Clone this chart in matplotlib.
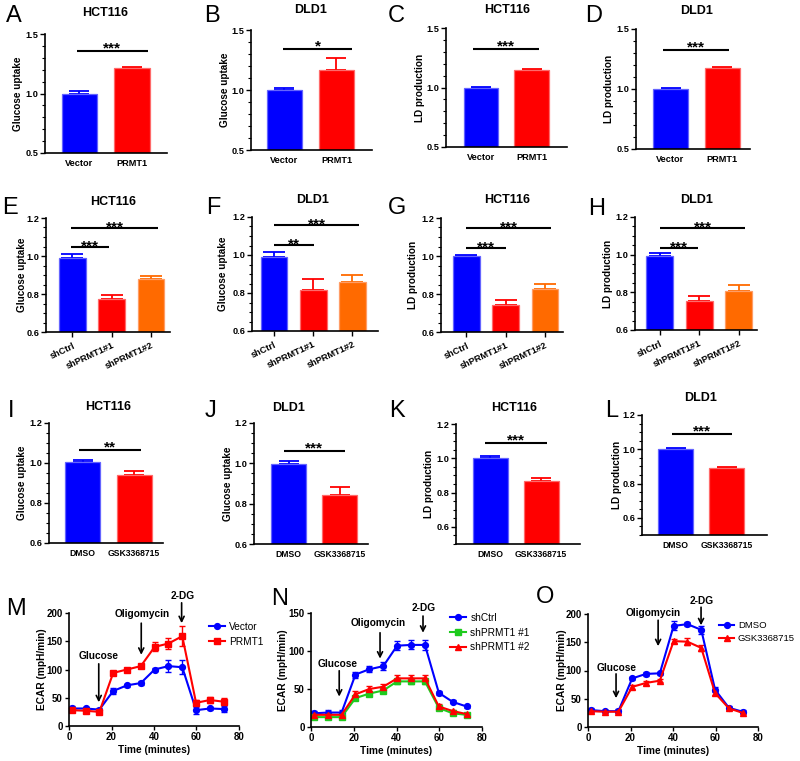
import matplotlib
matplotlib.use('Agg')
import matplotlib.pyplot as plt
from matplotlib.ticker import MultipleLocator
import numpy as np

plt.rcParams['font.family'] = ['Liberation Sans', 'DejaVu Sans']

# ---------------- data ----------------
grp_vec = ['Vector', 'PRMT1']
grp_sh = ['shCtrl', 'shPRMT1#1', 'shPRMT1#2']
grp_drug = ['DMSO', 'GSK3368715']

A_mean = [0.996, 1.214]; A_err = [0.024, 0.008]
B_mean = [1.000, 1.164]; B_err = [0.015, 0.100]
C_mean = [0.999, 1.144]; C_err = [0.008, 0.011]
D_mean = [1.000, 1.171]; D_err = [0.005, 0.009]
E_mean = [0.989, 0.775, 0.881]; E_err = [0.023, 0.021, 0.014]
F_mean = [0.989, 0.814, 0.856]; F_err = [0.027, 0.058, 0.037]
G_mean = [0.998, 0.740, 0.825]; G_err = [0.009, 0.027, 0.026]
H_mean = [0.993, 0.755, 0.808]; H_err = [0.016, 0.025, 0.030]
I_mean = [1.005, 0.942]; I_err = [0.012, 0.020]
J_mean = [0.998, 0.844]; J_err = [0.012, 0.041]
K_mean = [0.999, 0.868]; K_err = [0.014, 0.016]
L_mean = [1.000, 0.890]; L_err = [0.006, 0.006]

sig_A = [(-0.05, 1.30, 1.354, '***')]
sig_B = [(-0.03, 1.30, 1.342, '*')]
sig_C = [(-0.16, 1.15, 1.324, '***')]
sig_D = [(-0.15, 1.13, 1.322, '***')]
sig_E = [(-0.04, 0.94, 1.047, '***'), (-0.04, 2.18, 1.147, '***')]
sig_F = [(0.0, 1.01, 1.051, '**'), (0.0, 2.17, 1.156, '***')]
sig_G = [(0.0, 1.0, 1.042, '***'), (0.0, 2.16, 1.147, '***')]
sig_H = [(0.0, 0.96, 1.036, '***'), (0.0, 2.16, 1.141, '***')]
sig_I = [(-0.07, 1.14, 1.067, '**')]
sig_J = [(-0.09, 1.10, 1.063, '***')]
sig_K = [(-0.10, 1.12, 1.087, '***')]
sig_L = [(-0.08, 1.10, 1.088, '***')]

time_min = [1.3, 7.8, 14.3, 20.8, 27.3, 33.8, 40.3, 46.8, 53.3, 59.8, 66.3, 72.8]

M_vector = [31, 31, 29, 62, 72, 76, 100, 106, 104, 28, 31, 30]
M_vector_err = [4, 3, 3, 5, 3, 3, 3, 10, 12, 6, 3, 5]
M_prmt1 = [28, 27, 25, 94, 100, 106, 140, 146, 159, 41, 46, 43]
M_prmt1_err = [3, 3, 3, 3, 3, 3, 8, 10, 18, 5, 6, 6]

N_shctrl = [18, 19, 19, 69, 76, 80, 107, 108, 108, 45, 33, 27]
N_shctrl_err = [3, 3, 3, 4, 4, 5, 6, 6, 7, 3, 2, 2]
N_sh1 = [13, 13, 13, 38, 44, 48, 60, 60, 60, 25, 18, 16]
N_sh1_err = [2, 2, 2, 3, 3, 3, 3, 3, 3, 2, 2, 2]
N_sh2 = [16, 16, 16, 43, 50, 53, 64, 64, 64, 27, 21, 17]
N_sh2_err = [3, 3, 3, 4, 4, 4, 5, 5, 5, 3, 2, 2]

O_dmso = [30, 28, 28, 86, 94, 95, 179, 182, 172, 66, 34, 27]
O_dmso_err = [3, 2, 3, 3, 3, 3, 8, 4, 7, 4, 3, 3]
O_gsk = [28, 27, 27, 71, 78, 82, 152, 151, 140, 60, 33, 25]
O_gsk_err = [3, 3, 3, 3, 3, 3, 4, 6, 6, 3, 2, 2]

# ---------------- layout helpers ----------------
W, H = 800, 761
fig = plt.figure(figsize=(W / 100, H / 100), dpi=100)

BLUE, RED, ORANGE, GREEN = '#0000ff', '#ff0000', '#ff6a00', '#1ecb1e'
EDGE = {BLUE: '#6464ff', RED: '#ff6a6a', ORANGE: '#ff9d66'}


def add_ax(l, t, r, b):
    return fig.add_axes([l / W, 1 - b / H, (r - l) / W, (b - t) / H])


def ftext(x, y, s, **kw):
    return fig.text(x / W, 1 - y / H, s, **kw)


def style_spines(ax):
    for s in ('top', 'right'):
        ax.spines[s].set_visible(False)
    for s in ('left', 'bottom'):
        ax.spines[s].set_linewidth(1.2)


def bar_panel(box, xlim, ylim, major, minor, cats, means, errs, colors, sigs,
              letter, letter_xy, title, title_xy, ylabel, ylabel_x,
              rot=0, xtick_len=0, xfs=6.6, capsize=7, sig_off=-1.0):
    ax = add_ax(*box)
    x = np.arange(len(cats))
    for xi, m, e, c in zip(x, means, errs, colors):
        ax.bar(xi, m, width=0.68, color=c, edgecolor=EDGE[c], linewidth=0.9, zorder=2)
        ax.errorbar(xi, m, yerr=[[0], [e]], fmt='none', ecolor=c, elinewidth=1.3,
                    capsize=capsize, capthick=1.3, zorder=1)
    ax.set_xlim(*xlim)
    ax.set_ylim(*ylim)
    ax.yaxis.set_major_locator(MultipleLocator(major))
    ax.yaxis.set_minor_locator(MultipleLocator(minor))
    ax.set_yticks(ax.get_yticks())
    ax.set_ylim(*ylim)
    ax.set_yticklabels([f'{v:.1f}' for v in ax.get_yticks()], fontsize=6.6, fontweight='bold')
    ax.tick_params(axis='y', which='major', length=3.5, width=1.0, pad=1.5)
    ax.tick_params(axis='y', which='minor', length=2, width=0.8)
    ax.set_xticks(x)
    if rot:
        ax.set_xticklabels(cats, fontsize=xfs, fontweight='bold', rotation=rot,
                           ha='right', rotation_mode='anchor')
    else:
        ax.set_xticklabels(cats, fontsize=xfs, fontweight='bold')
    ax.tick_params(axis='x', length=xtick_len, width=1.0, pad=4 if not rot else 3)
    style_spines(ax)
    for (x0, x1, y, s) in sigs:
        ax.plot([x0, x1], [y, y], color='black', lw=1.5, clip_on=False, solid_capstyle='butt')
        ax.annotate(s, xy=((x0 + x1) / 2, y), xytext=(0, sig_off), textcoords='offset points',
                    ha='center', va='baseline', fontsize=11, fontweight='bold',
                    annotation_clip=False)
    ftext(letter_xy[0], letter_xy[1], letter, fontsize=17, va='baseline', ha='left')
    ftext(title_xy[0], title_xy[1], title, fontsize=9, fontweight='bold', ha='center', va='baseline')
    ftext(ylabel_x, (box[1] + box[3]) / 2, ylabel, fontsize=7.2, fontweight='bold',
          rotation=90, ha='center', va='center')
    return ax


c2 = [BLUE, RED]
c3 = [BLUE, RED, ORANGE]

# Row 1
bar_panel((45, 34, 167, 153), (-0.657, 1.667), (0.5, 1.5), 0.5, 0.1, grp_vec, A_mean, A_err, c2, sig_A,
          'A', (6, 22), 'HCT116', (105, 16), 'Glucose uptake', 18)
bar_panel((251, 30, 372, 150), (-0.644, 1.683), (0.5, 1.5), 0.5, 0.1, grp_vec, B_mean, B_err, c2, sig_B,
          'B', (204, 22), 'DLD1', (311, 13), 'Glucose uptake', 225)
bar_panel((446, 28, 567, 147), (-0.69, 1.70), (0.5, 1.5), 0.5, 0.1, grp_vec, C_mean, C_err, c2, sig_C,
          'C', (388, 22), 'HCT116', (507, 13), 'LD production', 420)
bar_panel((636, 29, 750, 149), (-0.67, 1.54), (0.5, 1.5), 0.5, 0.1, grp_vec, D_mean, D_err, c2, sig_D,
          'D', (585, 22), 'DLD1', (697, 14), 'LD production', 609)

# Row 2
bar_panel((46, 218, 170, 332), (-0.67, 2.48), (0.6, 1.2), 0.2, 0.05, grp_sh, E_mean, E_err, c3, sig_E,
          'E', (2, 214), 'HCT116', (113, 205), 'Glucose uptake', 22, rot=25, xtick_len=3.5,
          xfs=6.6, capsize=8, sig_off=-2.5)
bar_panel((252, 217, 378, 331), (-0.56, 2.65), (0.6, 1.2), 0.2, 0.05, grp_sh, F_mean, F_err, c3, sig_F,
          'F', (206, 214), 'DLD1', (313, 203), 'Glucose uptake', 223, rot=25, xtick_len=3.5,
          xfs=6.6, capsize=8, sig_off=-2.5)
bar_panel((441, 218, 563, 332), (-0.65, 2.46), (0.6, 1.2), 0.2, 0.05, grp_sh, G_mean, G_err, c3, sig_G,
          'G', (388, 214), 'HCT116', (507, 203), 'LD production', 413, rot=25, xtick_len=3.5,
          xfs=6.6, capsize=8, sig_off=-2.5)
bar_panel((635, 217, 757, 330), (-0.63, 2.46), (0.6, 1.2), 0.2, 0.05, grp_sh, H_mean, H_err, c3, sig_H,
          'H', (588, 215), 'DLD1', (697, 203), 'LD production', 608, rot=25, xtick_len=3.5,
          xfs=6.6, capsize=8, sig_off=-2.5)

# Row 3
bar_panel((49, 423, 163, 543), (-0.65, 1.56), (0.6, 1.2), 0.2, 0.05, grp_drug, I_mean, I_err, c2, sig_I,
          'I', (8, 417), 'HCT116', (108, 410), 'Glucose uptake', 22, xfs=6.2)
bar_panel((254, 423, 368, 544), (-0.68, 1.56), (0.6, 1.2), 0.2, 0.05, grp_drug, J_mean, J_err, c2, sig_J,
          'J', (205, 417), 'DLD1', (289, 411), 'Glucose uptake', 228, xfs=6.2)
bar_panel((456, 424, 580, 544), (-0.67, 1.76), (0.5, 1.2), 0.2, 0.05, grp_drug, K_mean, K_err, c2, sig_K,
          'K', (389, 417), 'HCT116', (514, 411), 'LD production', 429, xfs=6.2)
bar_panel((642, 415, 767, 535), (-0.66, 1.79), (0.5, 1.2), 0.2, 0.05, grp_drug, L_mean, L_err, c2, sig_L,
          'L', (605, 417), 'DLD1', (701, 401), 'LD production', 617, xfs=6.2)


# Row 4: ECAR line charts
def line_panel(box, ylim, ymajor, series, letter, letter_xy, ylabel_x, legend_xy, annots, lfs=7.3):
    ax = add_ax(*box)
    handles = []
    for (vals, errs, color, marker, label) in series:
        cont = ax.errorbar(time_min, vals, yerr=errs, color=color, marker=marker, markersize=4.2,
                           lw=1.5, elinewidth=1.0, capsize=2.5, capthick=1.0, label=label,
                           clip_on=False)
        handles.append(cont[0])
    ax.set_xlim(0, 80)
    ax.set_ylim(*ylim)
    ax.xaxis.set_major_locator(MultipleLocator(20))
    ax.yaxis.set_major_locator(MultipleLocator(ymajor))
    ax.set_xticks(ax.get_xticks())
    ax.set_yticks(ax.get_yticks())
    ax.set_xlim(0, 80)
    ax.set_ylim(*ylim)
    ax.set_xticklabels([f'{int(v)}' for v in ax.get_xticks()], fontsize=7, fontweight='bold')
    ax.set_yticklabels([f'{int(v)}' for v in ax.get_yticks()], fontsize=7, fontweight='bold')
    ax.tick_params(length=3, width=1.0, pad=1.5)
    style_spines(ax)
    ax.set_xlabel('Time (minutes)', fontsize=7.3, fontweight='bold', labelpad=2)
    ftext(ylabel_x, (box[1] + box[3]) / 2, 'ECAR (mpH/min)', fontsize=7.3, fontweight='bold',
          rotation=90, ha='center', va='center')
    ftext(letter_xy[0], letter_xy[1], letter, fontsize=17, va='baseline', ha='left')
    for (txt, tx, ty, ax_x, y0, y1) in annots:
        ax.annotate('', xy=(ax_x, y1), xytext=(ax_x, y0),
                    arrowprops=dict(arrowstyle='->', lw=1.2, color='black', mutation_scale=9,
                                    shrinkA=0, shrinkB=0),
                    annotation_clip=False)
        ax.text(tx, ty, txt, fontsize=7.3, fontweight='bold', ha='center', va='center', clip_on=False)
    ax.legend(handles, [s[4] for s in series], loc='upper left',
              bbox_to_anchor=(legend_xy[0] / W, 1 - legend_xy[1] / H),
              bbox_transform=fig.transFigure, frameon=False, fontsize=lfs, handlelength=1.6,
              handletextpad=0.4, labelspacing=0.45, borderpad=0, borderaxespad=0)
    return ax


line_panel((69, 613, 239, 726), (0, 200), 50,
           [(M_vector, M_vector_err, BLUE, 'o', 'Vector'),
            (M_prmt1, M_prmt1_err, RED, 's', 'PRMT1')],
           'M', (6, 615), 42, (209, 622),
           [('Glucose', 14.1, 124, 14.0, 110, 42),
            ('Oligomycin', 34.4, 198, 34.0, 182, 126),
            ('2-DG', 53.6, 230, 53.0, 218, 182)])

line_panel((311, 613, 482, 727), (0, 150), 50,
           [(N_shctrl, N_shctrl_err, BLUE, 'o', 'shCtrl'),
            (N_sh1, N_sh1_err, GREEN, 's', 'shPRMT1 #1'),
            (N_sh2, N_sh2_err, RED, '^', 'shPRMT1 #2')],
           'N', (271, 605), 283, (450, 613),
           [('Glucose', 12.6, 83, 13.2, 74, 40),
            ('Oligomycin', 31.3, 137, 32.3, 124, 90),
            ('2-DG', 52.9, 157, 52.4, 146, 124)])

line_panel((588, 614, 758, 727), (0, 200), 50,
           [(O_dmso, O_dmso_err, BLUE, 'o', 'DMSO'),
            (O_gsk, O_gsk_err, RED, '^', 'GSK3368715')],
           'O', (536, 603), 562, (719, 621),
           [('Glucose', 13.6, 104, 13.2, 94, 51),
            ('Oligomycin', 30.6, 202, 33.0, 189, 143),
            ('2-DG', 53.6, 223, 53.2, 212, 180)], lfs=6.8)

fig.savefig('out.png', dpi=100)
